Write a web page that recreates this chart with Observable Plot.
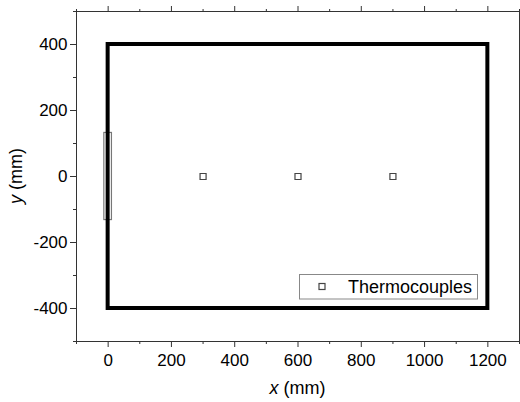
<!DOCTYPE html>
<html>
<head>
<meta charset="utf-8">
<script src="https://cdn.jsdelivr.net/npm/d3@7"></script>
<script src="https://cdn.jsdelivr.net/npm/@observablehq/plot@0.6"></script>
<style>
  html, body { margin: 0; padding: 0; background: #fff; }
  #chart svg { display: block; }
</style>
</head>
<body>
<div id="chart"></div>
<script>
// ---- data ----
const xMajorTicks = [0, 200, 400, 600, 800, 1000, 1200];
const xMinorTicks = [-100, 100, 300, 500, 700, 900, 1100, 1300];
const yMajorTicks = [-400, -200, 0, 200, 400];
const yMinorTicks = [-500, -300, -100, 100, 300, 500];
const tankX = [0, 1200];
const tankY = [-400, 400];
const heaterX = [-12, 12];
const heaterY = [-132, 132];
const thermoX = [300, 600, 900];
const thermoY = [0, 0, 0];
const legendLabel = "Thermocouples";

const tank = [{x1: tankX[0], x2: tankX[1], y1: tankY[0], y2: tankY[1]}];
const heater = [{x1: heaterX[0], x2: heaterX[1], y1: heaterY[0], y2: heaterY[1]}];
const thermo = thermoX.map((x, i) => ({x, y: thermoY[i]}));

const W = 520, H = 402;
const mL = 76, mR = 1, mT = 11, mB = 61;
const fmt = d => String(d);

const chart = Plot.plot({
  width: W, height: H,
  marginLeft: mL, marginRight: mR, marginTop: mT, marginBottom: mB,
  style: {fontFamily: "'Liberation Sans', Arial, sans-serif", color: "#000", background: "#fff"},
  x: {domain: [-100, 1300]},
  y: {domain: [-500, 500]},
  marks: [
    Plot.rect(heater, {x1: "x1", x2: "x2", y1: "y1", y2: "y2", fill: "#fff", stroke: "#777", strokeWidth: 1.2}),
    Plot.rect(tank, {x1: "x1", x2: "x2", y1: "y1", y2: "y2", fill: "none", stroke: "#000", strokeWidth: 4, strokeLinejoin: "miter"}),
    Plot.dot(thermo, {x: "x", y: "y", symbol: "square", r: 3.4, stroke: "#444", fill: "#fff", strokeWidth: 1.2}),
    Plot.frame({stroke: "#333", strokeWidth: 1}),
    Plot.axisX({ticks: xMajorTicks, tickSize: 6, tickPadding: 6, fontSize: 17, tickFormat: fmt, label: null, stroke: "#333"}),
    Plot.axisX({ticks: xMinorTicks, tickSize: 3, tickFormat: null, text: null, label: null, stroke: "#333"}),
    Plot.axisX({anchor: "top", ticks: xMajorTicks, tickSize: 6, text: null, label: null, stroke: "#333"}),
    Plot.axisX({anchor: "top", ticks: xMinorTicks, tickSize: 3, text: null, label: null, stroke: "#333"}),
    Plot.axisY({ticks: yMajorTicks, tickSize: 6, tickPadding: 3, fontSize: 17, tickFormat: fmt, label: null, stroke: "#333"}),
    Plot.axisY({ticks: yMinorTicks, tickSize: 3, text: null, label: null, stroke: "#333"})
  ]
});

const svg = d3.select(chart);
const font = "'Liberation Sans', Arial, sans-serif";

// x axis title
const xt = svg.append("text")
  .attr("x", (mL + W - mR) / 2).attr("y", 394)
  .attr("text-anchor", "middle").attr("font-size", 18).attr("font-family", font).attr("fill", "#000");
xt.append("tspan").attr("font-style", "italic").text("x");
xt.append("tspan").text(" (mm)");

// y axis title
const yt = svg.append("text")
  .attr("transform", `translate(22,${(mT + H - mB) / 2}) rotate(-90)`)
  .attr("text-anchor", "middle").attr("font-size", 18).attr("font-family", font).attr("fill", "#000");
yt.append("tspan").attr("font-style", "italic").text("y");
yt.append("tspan").text(" (mm)");

// legend
const lg = svg.append("g");
lg.append("rect").attr("x", 299.5).attr("y", 274.5).attr("width", 178).attr("height", 24.5)
  .attr("fill", "#fff").attr("stroke", "#888").attr("stroke-width", 1);
lg.append("rect").attr("x", 319).attr("y", 283.5).attr("width", 6).attr("height", 6)
  .attr("fill", "#fff").attr("stroke", "#444").attr("stroke-width", 1.2);
lg.append("text").attr("x", 348).attr("y", 292.5).attr("font-size", 18).attr("font-family", font)
  .attr("text-anchor", "start").attr("fill", "#000").text(legendLabel);

document.getElementById("chart").appendChild(chart);
</script>
</body>
</html>
